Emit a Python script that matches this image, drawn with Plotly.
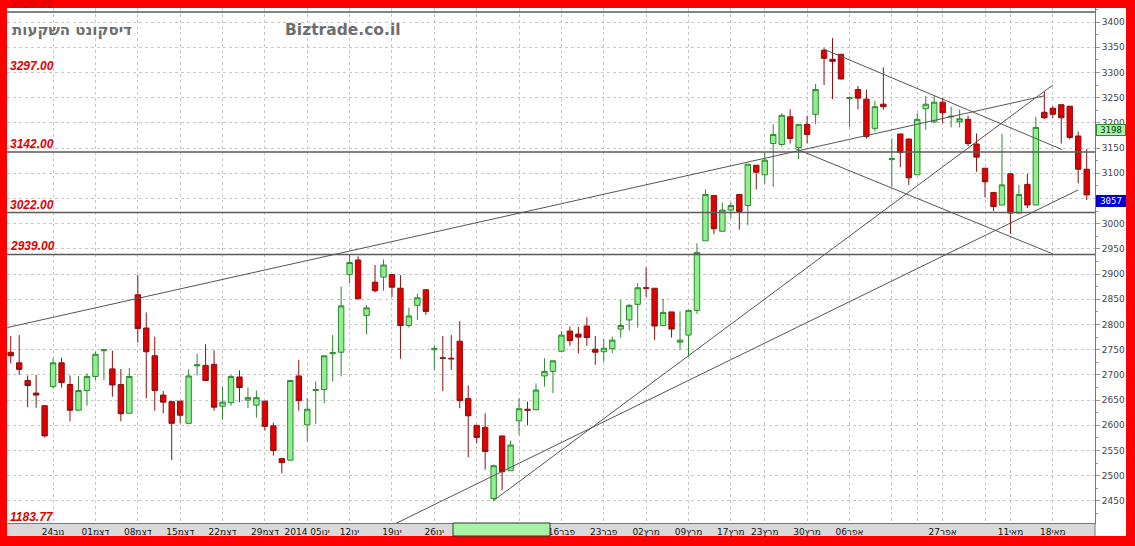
import plotly.graph_objects as go

# ---------------- data ----------------
opens = [2745,2724,2689,2664,2639,2677,2724,2681,2630,2669,2697,2748,2712,2681,2624,2859,2793,2738,2660,2647,
         2648,2604,2718,2719,2721,2638,2645,2696,2650,2640,2648,2599,2534,2531,2698,2601,2669,2671,2742,2745,
         2899,2928,2818,2884,2894,2899,2872,2798,2838,2869,2750,2734,2733,2767,2653,2600,2596,2455,2579,2510,
         2609,2632,2631,2698,2707,2747,2787,2781,2797,2751,2746,2752,2791,2809,2840,2873,2872,2798,2825,2765,
         2779,2828,2966,3056,2985,3027,3058,3036,3116,3097,3159,3157,3212,3151,3197,3217,3344,3326,3336,3248,
         3266,3247,3189,3237,3127,3178,3168,3097,3228,3202,3241,3212,3202,3207,3158,3110,3062,3037,3099,3021,
         3078,3037,3221,3229,3236,3233,3174,3108]
highs = [2777,2779,2699,2700,2640,2733,2734,2699,2698,2703,2746,2751,2748,2712,2714,2898,2824,2776,2668,2647,
         2648,2711,2742,2761,2749,2677,2700,2709,2675,2669,2648,2605,2534,2690,2730,2654,2687,2738,2779,2875,
         2938,2935,2839,2918,2929,2899,2898,2834,2861,2869,2758,2777,2779,2807,2679,2600,2624,2522,2579,2570,
         2654,2647,2683,2733,2729,2787,2796,2795,2814,2777,2771,2776,2849,2841,2882,2913,2872,2851,2825,2826,
         2829,2961,3068,3056,3042,3042,3058,3118,3116,3140,3197,3219,3227,3197,3214,3277,3348,3368,3336,3252,
         3273,3266,3244,3310,3169,3178,3168,3219,3253,3253,3250,3232,3226,3214,3179,3110,3062,3178,3100,3077,
         3099,3212,3262,3233,3236,3233,3183,3148]
lows = [2723,2700,2636,2635,2576,2673,2675,2608,2630,2639,2690,2690,2657,2608,2624,2764,2654,2629,2624,2531,
        2604,2604,2699,2689,2629,2611,2639,2646,2634,2615,2590,2540,2505,2530,2629,2569,2603,2644,2687,2697,
        2882,2850,2781,2864,2867,2855,2732,2794,2809,2819,2710,2668,2710,2634,2537,2564,2512,2451,2472,2510,
        2581,2600,2630,2677,2664,2746,2758,2743,2758,2720,2726,2743,2774,2788,2794,2855,2769,2797,2774,2750,
        2736,2821,2966,2979,2985,3011,2988,2997,3068,3079,3073,3153,3159,3128,3159,3197,3275,3247,3286,3191,
        3227,3169,3183,3226,3073,3112,3077,3097,3186,3199,3199,3191,3191,3154,3103,3052,3025,3037,2980,3021,
        3031,3037,3208,3210,3159,3167,3080,3047]
closes = [2738,2711,2679,2660,2579,2724,2685,2630,2669,2697,2741,2750,2680,2623,2697,2792,2746,2669,2646,2604,
          2620,2698,2720,2689,2636,2646,2697,2675,2655,2655,2598,2550,2526,2689,2649,2632,2671,2738,2744,2837,
          2923,2851,2833,2867,2918,2874,2798,2817,2853,2826,2752,2733,2732,2649,2619,2576,2548,2520,2508,2561,
          2633,2630,2670,2707,2728,2779,2768,2775,2774,2745,2753,2769,2798,2838,2873,2872,2797,2824,2791,2769,
          2828,2943,3058,2990,3027,3036,3024,3118,3102,3126,3177,3215,3169,3197,3177,3266,3328,3322,3287,3250,
          3249,3173,3232,3232,3129,3141,3091,3207,3237,3241,3220,3213,3208,3159,3132,3083,3034,3077,3021,3058,
          3037,3191,3210,3217,3210,3171,3108,3057]
bar_index = list(range(1, len(closes) + 1))

tick_index = [6, 11, 16, 21, 26, 31, 36, 41, 46, 51, 56, 61, 66, 71, 76, 81, 86, 90, 95, 100, 105, 108, 111, 116, 119, 124]
tick_labels = ["24נוב", "01דצמ", "08דצמ", "15דצמ", "22דצמ", "29דצמ", "2014 05ינו", "12ינו", "19ינו", "26ינו",
               "", "", "16פבר", "23פבר", "02מרץ", "09מרץ", "17מרץ", "23מרץ", "30מרץ", "06אפר",
               "", "", "27אפר", "", "11מאי", "18מאי"]

level_values = [3420.0, 3142.0, 3022.0, 2939.0]
level_labels_values = [3420.00, 3297.00, 3142.00, 3022.00, 2939.00]
bottom_label = "1183.77"

# trend lines: start index, start price, end index, end price
trend_x0 = [0.6, 46.4, 58.0, 97.0, 93.6]
trend_y0 = [2794, 2405, 2451, 3346, 3149]
trend_x1 = [123.1, 127.0, 124.0, 125.1, 124.0]
trend_y1 = [3254, 3067, 3275, 3147, 2940]

last_label_green = 3198
last_label_blue = 3057

title_he = "דיסקונט השקעות"
site_name = "Biztrade.co.il"

# ---------------- figure ----------------
W, H = 1135, 546
PL, PR, PT, PB = 7, 1095, 8, 523  # plot box in px


def px_x(px):
    return (px - PL) / (PR - PL)


def px_y(py):
    return (PB - py) / (PB - PT)


fig = go.Figure()

fig.add_trace(go.Candlestick(
    x=bar_index, open=opens, high=highs, low=lows, close=closes,
    increasing=dict(fillcolor="#8ef08e", line=dict(color="#2f8a2f", width=1)),
    decreasing=dict(fillcolor="#e00000", line=dict(color="#8b1010", width=1)),
    whiskerwidth=0, hoverinfo="skip", showlegend=False,
))

for x0, y0, x1, y1 in zip(trend_x0, trend_y0, trend_x1, trend_y1):
    fig.add_trace(go.Scatter(x=[x0, x1], y=[y0, y1], mode="lines",
                             line=dict(color="#555555", width=1),
                             hoverinfo="skip", showlegend=False))

shapes = []
# white right axis column and grey bottom band
shapes.append(dict(type="rect", xref="paper", yref="paper", x0=1.0, x1=px_x(1126), y0=px_y(536), y1=1.0,
                   fillcolor="white", line=dict(width=0), layer="below"))
shapes.append(dict(type="rect", xref="paper", yref="paper", x0=0, x1=1.0, y0=px_y(536), y1=0,
                   fillcolor="#d9d9d9", line=dict(width=0), layer="below"))
shapes.append(dict(type="line", xref="paper", yref="paper", x0=1.0, x1=1.0, y0=px_y(536), y1=0,
                   line=dict(color="#777777", width=1), layer="below"))
for lv in level_values:
    shapes.append(dict(type="line", xref="paper", yref="y", x0=0, x1=1, y0=lv, y1=lv,
                       line=dict(color="#5a5a5a", width=1.5), layer="above"))
# crosshair date box on time axis
shapes.append(dict(type="rect", xref="paper", yref="paper", x0=px_x(453), x1=px_x(550), y0=px_y(536), y1=0,
                   fillcolor="#a6f5a6", line=dict(color="#333333", width=1), layer="above"))

annotations = []
for lv in level_labels_values:
    annotations.append(dict(xref="paper", yref="y", x=px_x(8), y=lv, xanchor="left", yanchor="bottom",
                            text=f"<i><b>{lv:.2f}</b></i>", showarrow=False,
                            font=dict(family="Liberation Sans", size=12, color="#e00000"),
                            yshift=-1))
annotations.append(dict(xref="paper", yref="paper", x=px_x(8), y=px_y(517), xanchor="left", yanchor="middle",
                        text=f"<i><b>{bottom_label}</b></i>", showarrow=False,
                        font=dict(family="Liberation Sans", size=12, color="#e00000")))
annotations.append(dict(xref="paper", yref="paper", x=px_x(72), y=px_y(30), xanchor="center", yanchor="middle",
                        text=f"<b>{title_he}</b>", showarrow=False,
                        font=dict(family="DejaVu Sans", size=15, color="#6e6e6e")))
annotations.append(dict(xref="paper", yref="paper", x=px_x(343), y=px_y(30), xanchor="center", yanchor="middle",
                        text=f"<b>{site_name}</b>", showarrow=False,
                        font=dict(family="DejaVu Sans", size=15.5, color="#6e6e6e")))
annotations.append(dict(xref="paper", yref="y", x=px_x(1096), y=last_label_green, xanchor="left", yanchor="top",
                        text=str(last_label_green), showarrow=False, width=28, height=10,
                        bgcolor="#a6f5a6", bordercolor="#2f8a2f", borderwidth=1, borderpad=0,
                        font=dict(family="DejaVu Sans Mono", size=9, color="#003300")))
annotations.append(dict(xref="paper", yref="y", x=px_x(1096), y=last_label_blue, xanchor="left", yanchor="top",
                        text=str(last_label_blue), showarrow=False, width=28, height=10,
                        bgcolor="#0000d0", bordercolor="#0000d0", borderwidth=1, borderpad=0,
                        font=dict(family="DejaVu Sans Mono", size=9, color="white")))

fig.update_layout(
    width=W, height=H,
    margin=dict(l=PL, r=W - PR, t=PT, b=H - PB, autoexpand=False),
    paper_bgcolor="#ff0000", plot_bgcolor="white",
    showlegend=False,
    boxgap=0.15, boxgroupgap=0.25,
    shapes=shapes, annotations=annotations,
    hovermode=False,
    xaxis=dict(
        range=[0.56, 128.98], rangeslider=dict(visible=False),
        tickmode="array", tickvals=tick_index, ticktext=tick_labels,
        showgrid=True, gridcolor="#c8c8c8", griddash="dot", gridwidth=1,
        showline=True, linecolor="#777777", linewidth=1,
        ticks="", tickfont=dict(family="DejaVu Sans", size=9, color="#111111"),
        zeroline=False, fixedrange=True, automargin=False,
    ),
    yaxis=dict(
        range=[2406.3, 3427.8], side="right",
        tickmode="linear", tick0=2450, dtick=50,
        showgrid=True, gridcolor="#c8c8c8", griddash="dot", gridwidth=1,
        showline=True, linecolor="#777777", linewidth=1,
        ticks="outside", ticklen=4, tickcolor="#999999",
        minor=dict(ticks="outside", ticklen=2, dtick=25, tickcolor="#999999", showgrid=False),
        tickfont=dict(family="DejaVu Sans", size=9, color="#444444"),
        zeroline=False, fixedrange=True, automargin=False,
    ),
)

fig.write_html("out.html", config={"displayModeBar": False},
               post_script="document.body.style.margin='0';document.body.style.background='#ff0000';")
